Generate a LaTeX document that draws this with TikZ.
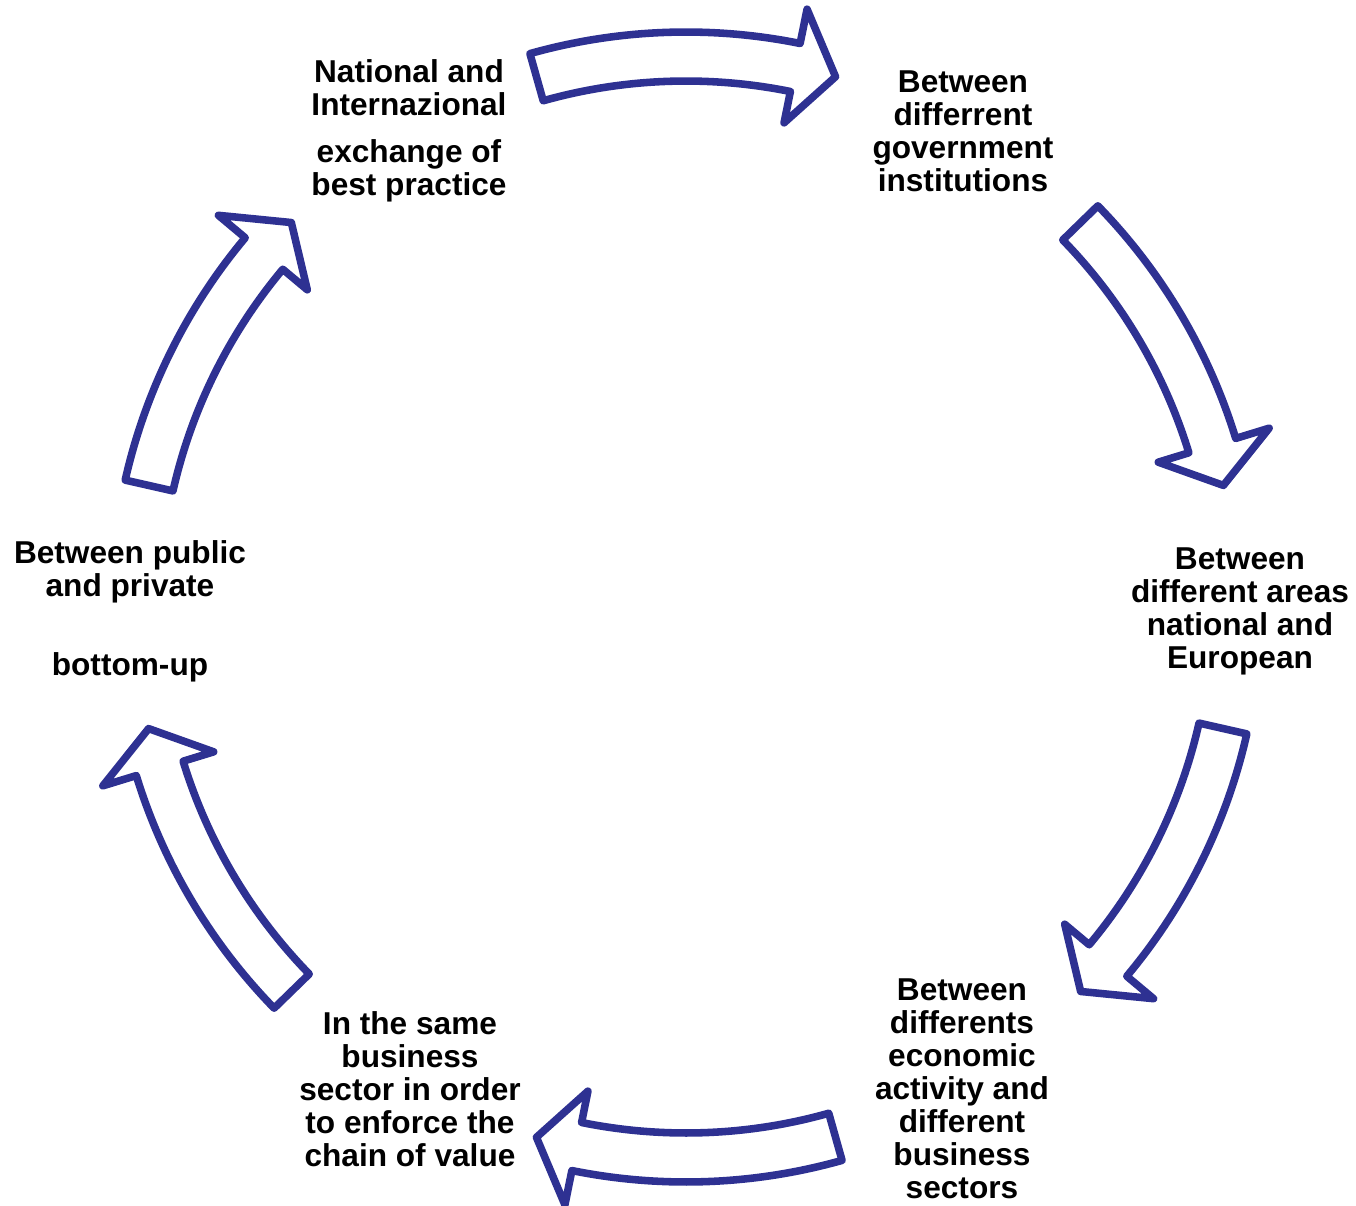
\documentclass[tikz,border=0pt]{standalone}
\usepackage{fontspec}
\setmainfont{Liberation Sans}
\definecolor{arrowblue}{RGB}{46,49,146}

\begin{document}
\begin{tikzpicture}[x=0.02cm, y=0.02cm]
\def\rin{526}
\def\rout{575}
\def\rbin{494}
\def\rbout{610}
\def\rtip{551}
\def\halfspan{15.75}
\def\headang{4.3}
\tikzset{lbl/.style={align=center, font=\fontsize{18}{18.8}\selectfont\bfseries, inner sep=0pt, yshift=-0.08cm}}
\useasboundingbox (-686,-598) rectangle (670,607);
% six curved block arrows, going clockwise
\foreach \c in {90,28.5,-28.5,-90,-151.5,151.5}
\draw [arrowblue, line width=4.3pt, line join=round, fill=white]
  (\c+\halfspan:\rout) arc (\c+\halfspan:\c-\halfspan+\headang:\rout)
  -- (\c-\halfspan+\headang:\rbout) -- (\c-\halfspan:\rtip)
  -- (\c-\halfspan+\headang:\rbin) -- (\c-\halfspan+\headang:\rin)
  arc (\c-\halfspan+\headang:\c+\halfspan:\rin) -- cycle;
% labels
\node (exchange) [lbl] at (120:554) {National and\\Internazional\\[8pt]exchange of\\best practice};
\node (government) [lbl] at (60:554) {Between\\differrent\\government\\institutions};
\node (areas) [lbl] at (0:554) {Between\\different areas\\national and\\European};
\node (sectors) [lbl] at (-60:552) {Between\\differents\\economic\\activity and\\different\\business\\sectors};
\node (value) [lbl] at (-120:552) {In the same\\business\\sector in order\\to enforce the\\chain of value};
\node (public) [lbl] at (180:556) {Between public\\and private\\[26pt]bottom-up};
\end{tikzpicture}
\end{document}
